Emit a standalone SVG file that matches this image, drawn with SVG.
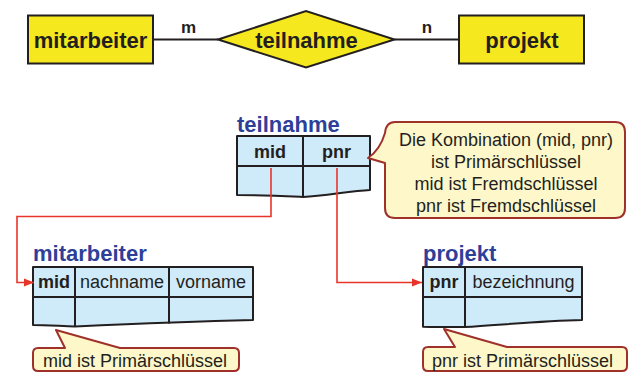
<svg xmlns="http://www.w3.org/2000/svg" width="629" height="373" viewBox="0 0 629 373">
<defs>
<style>
.ent{fill:#f6e81e;stroke:#231f20;stroke-width:2}
.erl{stroke:#231f20;stroke-width:2;fill:none}
.erT{font-family:"Liberation Sans",Arial,sans-serif;font-weight:bold;font-size:22px;fill:#231f20;text-anchor:middle}
.card{font-family:"Liberation Sans",Arial,sans-serif;font-weight:bold;font-size:17px;fill:#231f20;text-anchor:middle}
.tb{fill:#cfeaf9;stroke:#231f20;stroke-width:2;stroke-linejoin:round}
.div{stroke:#231f20;stroke-width:2;fill:none}
.title{font-family:"Liberation Sans",Arial,sans-serif;font-weight:bold;font-size:22px;fill:#2e3f99}
.h{font-family:"Liberation Sans",Arial,sans-serif;font-size:18px;fill:#231f20;text-anchor:middle}
.hb{font-weight:bold}
.call{fill:#fdf7c9;stroke:#a0302a;stroke-width:2;stroke-linejoin:round}
.ct{font-family:"Liberation Sans",Arial,sans-serif;font-size:18px;fill:#231f20}
.fk{stroke:#e8352a;stroke-width:1.6;fill:none}
</style>
<marker id="arr" markerUnits="userSpaceOnUse" markerWidth="12" markerHeight="10" refX="10" refY="5" orient="auto">
<path d="M0,1 L10,5 L0,9 Z" fill="#e8352a"/>
</marker>
</defs>

<g id="er-mitarbeiter">
<rect class="ent" x="28" y="15.5" width="125" height="48"/>
<text class="erT" x="90.5" y="47.5">mitarbeiter</text>
</g>
<g id="er-teilnahme">
<path class="ent" d="M218,39.5 L306,11 L394.5,39.5 L306,67.5 Z"/>
<text class="erT" x="306.5" y="47.5">teilnahme</text>
</g>
<g id="er-projekt">
<rect class="ent" x="459" y="15.5" width="125" height="48"/>
<text class="erT" x="522" y="47.5">projekt</text>
</g>

<g id="table-teilnahme">
<text class="title" x="237" y="132">teilnahme</text>
<path class="tb" d="M237,166 H370 V190 C350,191 325,196 303,197 C280,196 258,195 237,195 Z"/>
<rect class="tb" x="237" y="136" width="133" height="30"/>
<path class="div" d="M303,136 V197"/>
<text class="h hb" x="270" y="158">mid</text>
<text class="h hb" x="336.5" y="158">pnr</text>
</g>

<g id="table-mitarbeiter">
<text class="title" x="33" y="261">mitarbeiter</text>
<path class="tb" d="M33,297 H253 V320 C210,321 130,324 75,326.5 C60,326 45,325 33,325 Z"/>
<rect class="tb" x="33" y="267" width="220" height="30"/>
<path class="div" d="M75,267 V326.5 M169,267 V323.5"/>
<text class="h hb" x="54" y="288">mid</text>
<text class="h" x="122" y="288">nachname</text>
<text class="h" x="211" y="288">vorname</text>
</g>

<g id="table-projekt">
<text class="title" x="423" y="261">projekt</text>
<path class="tb" d="M423,297 H582 V320 C540,321 500,325 465,327 C450,327 435,327 423,326.7 Z"/>
<rect class="tb" x="423" y="267" width="159" height="30"/>
<path class="div" d="M465,267 V327"/>
<text class="h hb" x="444" y="288">pnr</text>
<text class="h" x="523.5" y="288">bezeichnung</text>
</g>

<g id="callout-teilnahme">
<path class="call" d="M395,122 H615 Q625,122 625,132 V208 Q625,218 615,218 H395 Q385,218 385,208 V163 L368,158 Q380,150 385,133 Q386,122 395,122 Z"/>
<text class="ct" text-anchor="middle" x="506" y="146">Die Kombination (mid, pnr)</text>
<text class="ct" text-anchor="middle" x="506" y="168">ist Primärschlüssel</text>
<text class="ct" text-anchor="middle" x="506" y="190">mid ist Fremdschlüssel</text>
<text class="ct" text-anchor="middle" x="506" y="212">pnr ist Fremdschlüssel</text>
</g>

<g id="callout-mitarbeiter">
<path class="call" d="M38,348 H65 L56,330 L120,348 H234 Q239,348 239,353 V366 Q239,371 234,371 H38 Q33,371 33,366 V353 Q33,348 38,348 Z"/>
<text class="ct" x="43" y="366.5">mid ist Primärschlüssel</text>
</g>

<g id="callout-projekt">
<path class="call" d="M428,347 H455 L444,329 L507,347 H622 Q627,347 627,352 V366 Q627,371 622,371 H428 Q423,371 423,366 V352 Q423,347 428,347 Z"/>
<text class="ct" x="432" y="366.5">pnr ist Primärschlüssel</text>
</g>

<g id="connectors">
<path class="erl" d="M153,39.5 H218"/>
<path class="erl" d="M394.5,39.5 H459"/>
<text class="card" x="188.5" y="33">m</text>
<text class="card" x="427" y="33">n</text>
<path class="fk" d="M271,168 V216.5 H17 V282.5 H34" marker-end="url(#arr)"/>
<path class="fk" d="M337,168 V282.5 H422" marker-end="url(#arr)"/>
</g>
</svg>
